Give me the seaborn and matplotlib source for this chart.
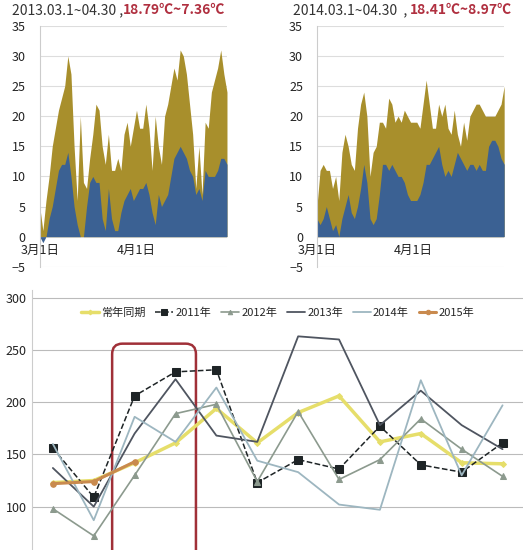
import numpy as np
import pandas as pd
import matplotlib
matplotlib.use('Agg')
import matplotlib.pyplot as plt
import seaborn as sns
from matplotlib.patches import FancyBboxPatch

sns.set_style('white')
plt.rcParams['font.family'] = ['Noto Sans CJK SC', 'DejaVu Sans']

#datos de temperatura diaria (max / min), 1 de marzo - 30 de abril
high_2013 = [5,1,6,10,15,18,21,23,25,30,27,15,6,20,9,8,13,17,22,21,15,12,17,11,11,13,11,17,19,15,
             18,21,18,18,22,18,11,20,15,12,20,22,25,28,26,31,30,27,22,17,8,15,7,19,18,24,26,28,31,27,24]
low_2013 = [0,-1,0,3,5,8,11,12,12,14,10,5,2,0,0,5,9,10,9,9,3,1,8,3,1,1,4,6,7,8,
            6,7,8,8,9,7,4,2,7,5,6,7,10,13,14,15,14,13,11,10,7,8,6,11,10,10,10,11,13,13,12]
high_2014 = [5,11,12,11,11,8,10,6,14,17,15,12,11,18,22,24,20,10,14,15,19,19,18,23,22,19,20,19,21,20,
             19,19,19,18,22,26,22,18,18,22,20,22,18,17,21,17,15,19,16,20,21,22,22,21,20,20,20,20,21,22,25]
low_2014 = [3,2,3,5,3,1,2,0,3,5,7,4,3,5,8,12,9,3,2,3,7,12,12,11,12,11,10,10,9,7,
            6,6,6,7,9,12,12,13,14,15,12,10,11,10,12,14,13,12,11,12,12,11,12,11,11,15,16,16,15,13,12]
titles = [('2013.03.1~04.30 ,', '18.79℃~7.36℃'), ('2014.03.1~04.30  , ', '18.41℃~8.97℃')]
date_labels = ['3月1日', '4月1日']

#serie inferior
periods = list(range(12))
series = {
    '常年同期': [123,125,142,161,194,161,190,206,162,170,142,141],
    '2011年': [156,109,206,229,231,123,145,136,177,140,133,161],
    '2012年': [98,72,130,189,198,124,191,126,145,184,155,129],
    '2013年': [137,100,170,222,168,162,263,260,178,211,178,155],
    '2014年': [160,87,186,162,214,144,133,102,97,221,130,197],
    '2015年': [122,124,143] + [np.nan]*9,
}
styles = {
    '常年同期': dict(color='#E6DE6A', lw=2.5, marker='D', ms=3, ls='-'),
    '2011年': dict(color='#1E2426', lw=1.1, marker='s', ms=5.5, ls='--'),
    '2012年': dict(color='#8C9A8E', lw=1.2, marker='^', ms=4, ls='-'),
    '2013年': dict(color='#4F5560', lw=1.3, marker='', ms=0, ls='-'),
    '2014年': dict(color='#9DB6C0', lw=1.3, marker='', ms=0, ls='-'),
    '2015年': dict(color='#C98A4E', lw=2.2, marker='o', ms=4, ls='-'),
}

fig = plt.figure(figsize=(5.23, 5.5), dpi=100)
olive = '#A88F2C'
blue = '#3B6193'
for k, (hi, lo, pos, tx) in enumerate([(high_2013, low_2013, 0.076, -0.15), (high_2014, low_2014, 0.606, -0.13)]):
    ax = fig.add_axes([pos, 0.515, 0.358, 0.438])
    days = np.arange(len(hi))
    ax.fill_between(days, 0, hi, color=olive, lw=0)
    ax.fill_between(days, 0, lo, color=blue, lw=0)
    ax.set_xlim(0, 60)
    ax.set_ylim(-5, 35)
    ax.set_yticks(range(-5, 36, 5))
    ax.yaxis.grid(True, color='#DDDDDD', lw=0.8)
    ax.set_axisbelow(True)
    ax.set_xticks([])
    for s in ['top', 'right', 'bottom']:
        ax.spines[s].set_visible(False)
    ax.spines['left'].set_color('#CCCCCC')
    ax.tick_params(axis='y', labelsize=9, length=0, pad=10, labelcolor='#222222')
    for d, lab in zip([0, 31], date_labels):
        ax.text(d, -1.2, lab, ha='center', va='top', fontsize=9, color='#222222')
    t = ax.text(tx, 1.035, titles[k][0], transform=ax.transAxes, fontsize=10, color='#333333', va='bottom')
    fig.canvas.draw()
    bb = t.get_window_extent().transformed(ax.transAxes.inverted())
    ax.text(bb.x1, 1.035, titles[k][1], transform=ax.transAxes, fontsize=10, color='#B03040',
            fontweight='bold', va='bottom')

ax = fig.add_axes([0.062, 0.0, 0.938, 0.473])
for name, vals in series.items():
    st = styles[name]
    sns.lineplot(x=periods, y=vals, ax=ax, label=name, color=st['color'], lw=st['lw'], ls=st['ls'],
                 marker=st['marker'] if st['marker'] else None, markersize=st['ms'],
                 markeredgecolor=st['color'])
ax.set_xlim(-0.5, 11.5)
ax.set_ylim(58.5, 307.5)
ax.set_yticks([100, 150, 200, 250, 300])
ax.yaxis.grid(True, color='#BBBBBB', lw=0.8)
ax.set_xticks([])
for s in ['top', 'right', 'bottom']:
    ax.spines[s].set_visible(False)
ax.spines['left'].set_color('#CCCCCC')
ax.tick_params(axis='y', labelsize=9, length=0, pad=4, labelcolor='#222222')
ax.legend(loc='upper center', bbox_to_anchor=(0.5, 0.97), ncol=6, frameon=False, fontsize=8,
          handlelength=1.6, handletextpad=0.2, columnspacing=0.9, markerscale=0.8)
box = FancyBboxPatch((1.45, 40), 2.05, 216, boxstyle='round,pad=0,rounding_size=0.25',
                     mutation_aspect=40, fill=False, ec='#A03038', lw=1.8, clip_on=True)
ax.add_patch(box)

fig.savefig('out.png', dpi=100)
